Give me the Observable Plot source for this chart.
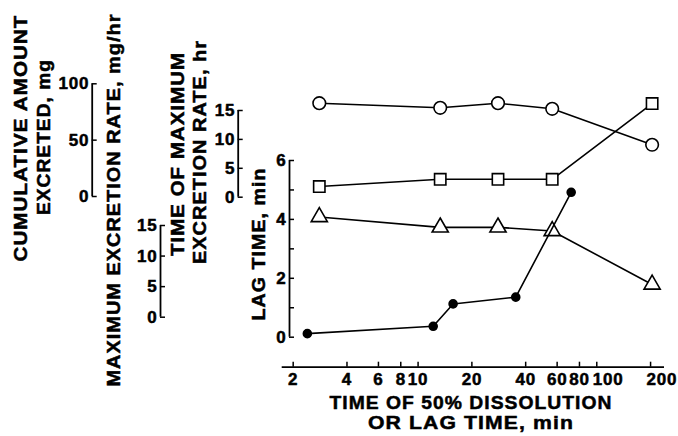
<!DOCTYPE html>
<html><head><meta charset="utf-8">
<script src="https://cdn.jsdelivr.net/npm/d3@7"></script>
<script src="https://cdn.jsdelivr.net/npm/@observablehq/plot@0.6"></script>
<style>
html,body{margin:0;padding:0;background:#fff;}
#chart{position:relative;width:678px;height:436px;overflow:hidden;background:#fff;}
#chart svg{position:absolute;left:0;top:0;background:transparent;overflow:visible;}
#chart svg text{font-family:"Liberation Sans",Arial,sans-serif;font-weight:bold;}
.ttl{position:absolute;white-space:nowrap;font-family:"Liberation Sans",Arial,sans-serif;font-weight:bold;font-size:19px;letter-spacing:1px;line-height:1;color:#000;-webkit-text-stroke:0.5px #000;}
</style></head><body><div id="chart"></div><script>
// ---- data ----
const dissolutionTime = [2.8, 13.3, 28, 56.3, 204];            // min (open symbols)
const cumulativeAmount = [82.8, 78.7, 82.8, 77.8, 45.9];        // mg (circles)
const timeOfMaxRate = [1.85, 3.1, 3.1, 3.1, 16.2];              // hr (squares)
const maxExcretionRate = [16.4, 14.7, 14.7, 14.1, 5.35];        // mg/hr (triangles)
const lagTimeX = [2.4, 12.15, 15.7, 35.2, 71.9];                // min (filled dots)
const lagTime = [0.12, 0.37, 1.13, 1.36, 4.92];                 // min
const xTicks = [2, 4, 6, 8, 10, 20, 40, 60, 80, 100, 200];
const cumTicks = [0, 50, 100];
const rateTicks = [0, 5, 10, 15];
const lagTicks = [0, 1, 2, 3, 4, 5, 6];
const lagLabels = [0, 2, 4, 6];

// ---- layout ----
const W = 678, H = 436;
const xDomain = [1.736, 239.3];
const xLayout = {left: 281.7, right: 664, axisY: 366.7};
const axes = {
  cum:  {x: 91.7,  top: 83.3,  bottom: 196,   domain: [0, 100], ticks: cumTicks,  labels: cumTicks},
  rate: {x: 160,   top: 225,   bottom: 316.7, domain: [0, 15],  ticks: rateTicks, labels: rateTicks},
  tmax: {x: 237.7, top: 110,   bottom: 196.7, domain: [0, 15],  ticks: rateTicks, labels: rateTicks},
  lag:  {x: 289,   top: 160,   bottom: 336.7, domain: [0, 6],   ticks: lagTicks,  labels: lagLabels}
};
const txtStyle = "letter-spacing:0.8px;font-weight:bold;background:transparent;overflow:visible";
const labelOpts = {fontSize: 17, fill: "black", stroke: "black", strokeWidth: 0.5};
const chart = document.getElementById("chart");

function yAxisPlot(ax) {
  return Plot.plot({
    width: W, height: H,
    marginLeft: ax.x, marginRight: W - ax.x - 5,
    marginTop: ax.top, marginBottom: H - ax.bottom,
    style: txtStyle,
    x: {domain: [0, 1], axis: null},
    y: {domain: ax.domain, axis: null},
    marks: [
      Plot.ruleX([0], {stroke: "black", strokeWidth: 1.8}),
      Plot.ruleY(ax.ticks, {stroke: "black", strokeWidth: 1.5}),
      Plot.text(ax.labels, {y: d => d, text: d => String(d), frameAnchor: "left", textAnchor: "end", dx: -3, ...labelOpts})
    ]
  });
}

function seriesPlot(ax, xs, ys, dotOpts) {
  const data = xs.map((x, i) => ({x, y: ys[i]}));
  return Plot.plot({
    width: W, height: H,
    marginLeft: xLayout.left, marginRight: W - xLayout.right,
    marginTop: ax.top, marginBottom: H - ax.bottom,
    style: txtStyle,
    x: {type: "log", domain: xDomain, axis: null},
    y: {domain: ax.domain, axis: null},
    marks: [
      Plot.line(data, {x: "x", y: "y", stroke: "black", strokeWidth: 1.6}),
      Plot.dot(data, {x: "x", y: "y", stroke: "black", strokeWidth: 1.6, ...dotOpts})
    ]
  });
}

const xAxisPlot = Plot.plot({
  width: W, height: H,
  marginLeft: xLayout.left, marginRight: W - xLayout.right,
  marginTop: xLayout.axisY - 5, marginBottom: H - xLayout.axisY,
  style: txtStyle,
  x: {type: "log", domain: xDomain, axis: null},
  y: {domain: [0, 1], axis: null},
  marks: [
    Plot.ruleY([0], {stroke: "black", strokeWidth: 1.8}),
    Plot.ruleX(xTicks, {stroke: "black", strokeWidth: 1.5}),
    Plot.text(xTicks.filter(d => d < 100), {x: d => d, text: d => String(d), frameAnchor: "bottom", lineAnchor: "top", dy: 6, ...labelOpts}),
    Plot.text(xTicks.filter(d => d >= 100), {x: d => d, text: d => String(d), frameAnchor: "bottom", lineAnchor: "top", textAnchor: "start", dx: -4, dy: 6, ...labelOpts})
  ]
});

[yAxisPlot(axes.cum), yAxisPlot(axes.rate), yAxisPlot(axes.tmax), yAxisPlot(axes.lag), xAxisPlot,
 seriesPlot(axes.cum, dissolutionTime, cumulativeAmount, {symbol: "circle", r: 6.3, fill: "white"}),
 seriesPlot(axes.tmax, dissolutionTime, timeOfMaxRate, {symbol: "square", r: 6.4, fill: "white"}),
 seriesPlot(axes.rate, dissolutionTime, maxExcretionRate, {symbol: "triangle", r: 6, fill: "white"}),
 seriesPlot(axes.lag, lagTimeX, lagTime, {symbol: "circle", r: 4, fill: "black"})
].forEach(svg => chart.appendChild(svg));

// ---- axis titles (centre point, length along the text, rotated or not) ----
const titles = [
  {text: "CUMULATIVE AMOUNT", cx: 20, cy: 138, len: 246, rot: true},
  {text: "EXCRETED, mg", cx: 43, cy: 136.5, len: 155, rot: true},
  {text: "MAXIMUM EXCRETION RATE, mg/hr", cx: 113, cy: 200, len: 372, rot: true},
  {text: "TIME OF MAXIMUM", cx: 177, cy: 153.5, len: 203, rot: true},
  {text: "EXCRETION RATE, hr", cx: 199, cy: 151.5, len: 223, rot: true},
  {text: "LAG TIME, min", cx: 258, cy: 244, len: 152, rot: true},
  {text: "TIME OF 50% DISSOLUTION", cx: 471, cy: 402, len: 282, rot: false},
  {text: "OR LAG TIME, min", cx: 471, cy: 421.7, len: 205, rot: false}
];
titles.forEach(t => {
  const d = document.createElement("div");
  d.className = "ttl";
  d.textContent = t.text;
  d.style.left = t.cx + "px";
  d.style.top = t.cy + "px";
  chart.appendChild(d);
  const w = d.getBoundingClientRect().width - 1;
  const k = t.len / w;
  d.style.transform = "translate(-50%,-50%)" + (t.rot ? " rotate(-90deg)" : "") + " scale(" + k.toFixed(3) + ",1)";
});
</script></body></html>
